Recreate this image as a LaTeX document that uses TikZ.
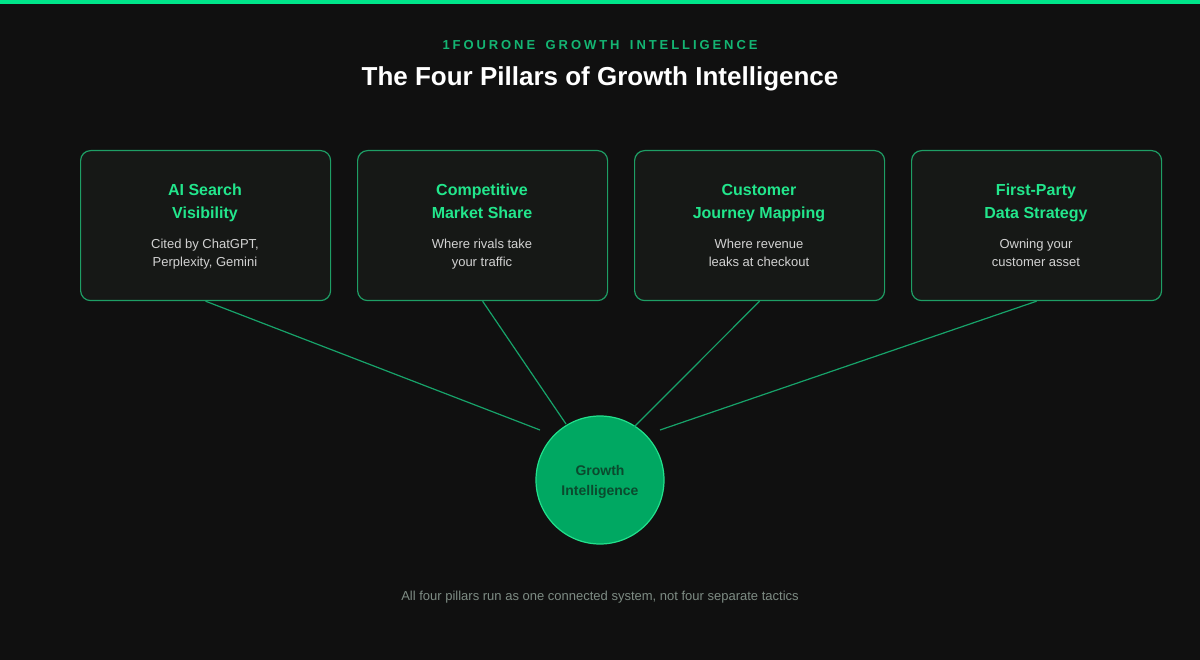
\documentclass[tikz,border=0pt]{standalone}
\usepackage{fontspec}
\setmainfont{Liberation Sans}
\newfontfamily\spaced[LetterSpace=22.5,WordSpace=1.6]{Liberation Sans}
\definecolor{bg}{HTML}{101010}
\definecolor{topbar}{HTML}{00E58A}
\definecolor{boxfill}{HTML}{161816}
\definecolor{boxline}{HTML}{1E9E65}
\definecolor{linkc}{HTML}{17A36A}
\definecolor{ttl}{HTML}{22E68C}
\definecolor{bodyc}{HTML}{D2D2D2}
\definecolor{circfill}{HTML}{00A862}
\definecolor{circline}{HTML}{22E08C}
\definecolor{circtext}{HTML}{0B4A2E}
\definecolor{kicker}{HTML}{14B573}
\definecolor{foot}{HTML}{7E8C84}
\tikzset{
  pillar/.style={draw=boxline, fill=boxfill, line width=1.2pt, rounded corners=10pt,
    minimum width=250pt, minimum height=150pt, anchor=north west, inner sep=0pt},
  ptitle/.style={text=ttl, font=\fontsize{16}{23}\selectfont\bfseries, align=center, anchor=base, inner sep=0pt},
  pbody/.style={text=bodyc, font=\fontsize{13}{18}\selectfont, align=center, anchor=base, inner sep=0pt},
  link/.style={draw=linkc, line width=1.2pt},
}
\begin{document}
\begin{tikzpicture}[x=1pt,y=-1pt]
\fill[bg] (0,0) rectangle (1200,660);
\useasboundingbox (0,0) rectangle (1200,660);
\fill[topbar] (0,0) rectangle (1200,4);
\node[text=kicker, font=\fontsize{13}{15}\selectfont\bfseries\spaced, anchor=base, inner sep=0pt] (kick) at (600,50) {1FOURONE GROWTH INTELLIGENCE};
\node[text=white, font=\fontsize{26}{30}\selectfont\bfseries, anchor=base, inner sep=0pt] (title) at (600,86) {The Four Pillars of Growth Intelligence};

\node[pillar] (p1) at (80,150) {};
\node[pillar] (p2) at (357,150) {};
\node[pillar] (p3) at (634,150) {};
\node[pillar] (p4) at (911,150) {};

\node[ptitle] (t1) at (205,219) {AI Search\\Visibility};
\node[ptitle] (t2) at (482,219) {Competitive\\Market Share};
\node[ptitle] (t3) at (759,219) {Customer\\Journey Mapping};
\node[ptitle] (t4) at (1036,219) {First-Party\\Data Strategy};

\node[pbody] (b1) at (205,267) {Cited by ChatGPT,\\Perplexity, Gemini};
\node[pbody] (b2) at (482,267) {Where rivals take\\your traffic};
\node[pbody] (b3) at (759,267) {Where revenue\\leaks at checkout};
\node[pbody] (b4) at (1036,267) {Owning your\\customer asset};

\node[circle, draw=circline, fill=circfill, line width=1.2pt, minimum size=128pt, inner sep=0pt] (hub) at (600,480) {};
\node[text=circtext, font=\fontsize{14}{20}\selectfont\bfseries, align=center, anchor=base, inner sep=0pt] (hubtext) at (600,495) {Growth\\Intelligence};

\coordinate (e1) at (540,430);
\coordinate (e2) at (566,424);
\coordinate (e3) at (634,427);
\coordinate (e4) at (660,430);
\draw[link] (p1.south) -- (e1);
\draw[link] (p2.south) -- (e2);
\draw[link] (p3.south) -- (e3);
\draw[link] (p4.south) -- (e4);

\node[text=foot, font=\fontsize{13}{15}\selectfont, anchor=base, inner sep=0pt] (footer) at (600,600) {All four pillars run as one connected system, not four separate tactics};
\end{tikzpicture}
\end{document}
